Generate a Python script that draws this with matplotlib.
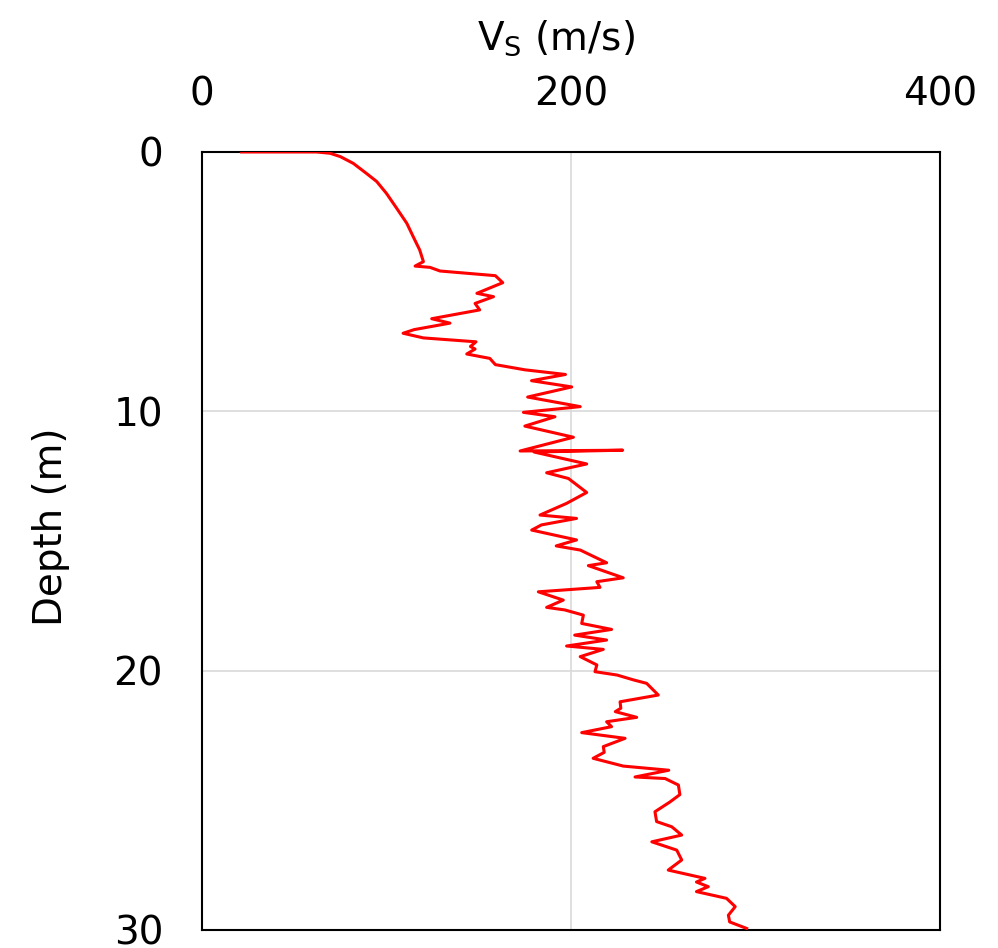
import matplotlib
matplotlib.use('Agg')
import matplotlib.pyplot as plt

depth = [0.00, 0.00, 0.05, 0.18, 0.44, 0.82, 1.14, 1.60, 2.17, 2.75, 3.27, 3.78, 4.23, 4.40,
         4.45, 4.59, 4.77, 5.04, 5.45,
         5.58, 5.84, 6.09, 6.43, 6.60, 6.85, 6.99, 7.17, 7.32, 7.50, 7.60, 7.79, 7.96, 8.20,
         8.40, 8.58, 8.82, 9.06, 9.45, 9.82, 10.04, 10.21, 10.57, 11.00, 11.53, 11.50, 11.57,
         12.03, 12.37, 12.59, 13.13, 13.55, 14.00, 14.13, 14.38, 14.58, 14.96, 15.19, 15.35,
         15.84, 15.95, 16.42, 16.57, 16.79, 16.96, 17.28, 17.56, 17.66, 17.86, 18.18, 18.41,
         18.63, 18.82, 19.05, 19.18, 19.46, 19.78, 20.04, 20.17, 20.36, 20.49, 20.94, 21.20,
         21.45, 21.58, 21.80, 21.97, 22.16, 22.39, 22.61, 22.93, 23.15, 23.38, 23.68, 23.84,
         24.10, 24.16, 24.41, 24.78, 25.06, 25.44, 25.82, 26.02, 26.34, 26.60, 26.92, 27.30,
         27.69, 28.01, 28.15, 28.33, 28.52, 28.78, 29.10, 29.43, 29.69, 29.94]
vs = [21.5, 62, 69.4, 75, 82, 89, 94.7, 100, 105.5, 111, 114.5, 118, 120, 115.5,
      123.6, 129, 159, 163, 149,
      158, 148, 150.5, 124.5, 134.4, 115, 109, 120, 148.5, 145.5, 148, 143.5, 156, 159,
      175, 197, 178.6, 200.4, 176.5, 205, 174.2, 191.3, 175, 201.3, 172.4, 228, 180,
      208.5, 186.8, 198.6, 208.5, 197.6, 183.2, 203, 184, 178.7, 203, 192, 205,
      219.3, 209.4, 228.3, 214, 215.7, 182.3, 195.8, 186.8, 196.7, 206.7, 205.8, 222,
      202, 219.3, 197.6, 217.5, 205, 214, 213, 225, 234, 241, 247.3, 226.6,
      227, 224, 235.6, 219.3, 222, 205.8, 229.3, 217.5, 218, 212, 228.3, 253,
      234.7, 251, 258.2, 259, 253.7, 245.5, 246.4, 254.6, 260, 243.8, 257.3, 260,
      252.7, 272.6, 268, 274.4, 268, 284.3, 289, 285.3, 286, 295.2]

plt.rcParams['font.family'] = ['DejaVu Sans']
fig = plt.figure(figsize=(9.98, 9.48), dpi=100)
ax = fig.add_axes([0.2024, 0.019, 0.7395, 0.8207])

ax.plot(vs, depth, color='#ff0000', linewidth=2.2, zorder=3)

ax.set_xlim(0, 400)
ax.set_ylim(30, 0)
ax.set_xticks([0, 200, 400])
ax.set_yticks([0, 10, 20, 30])
ax.xaxis.tick_top()
ax.xaxis.set_label_position('top')
ax.tick_params(axis='both', length=0, labelsize=28, pad=28)
ax.grid(True, color='#d9d9d9', linewidth=1.2, zorder=0)
for s in ax.spines.values():
    s.set_linewidth(1.5)
    s.set_color('black')

ax.set_xlabel(r'V$_\mathregular{S}$ (m/s)', fontsize=28)
ax.set_ylabel('Depth (m)', fontsize=28)
ax.xaxis.set_label_coords(0.48, 1.131)
ax.yaxis.set_label_coords(-0.179, 0.518)

fig.savefig('out.png', dpi=100)
